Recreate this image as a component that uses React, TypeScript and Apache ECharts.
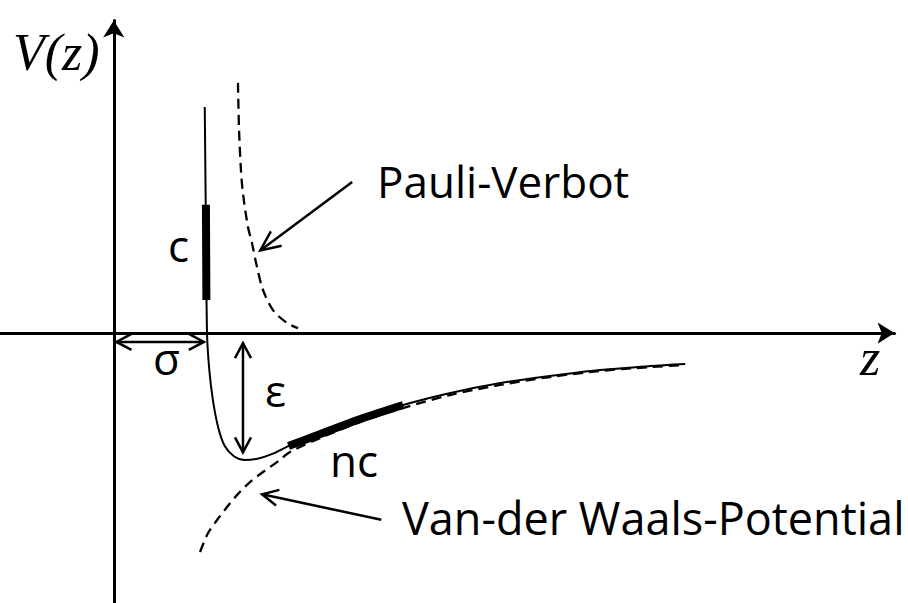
import { useEffect, useRef } from "react";
import * as echarts from "echarts";

// z is measured in units of σ, V in units of ε
const Z_MIN = -1.25;
const Z_MAX = 8.58;
const V_MIN = -2.126;
const V_MAX = 2.461;

// Full pair potential (solid curve)
const potentialZ = [1.0, 1.01, 1.025, 1.05, 1.09, 1.15, 1.22, 1.32, 1.44, 1.58, 1.75, 1.92, 2.27, 2.71, 3.18, 3.7, 4.25, 4.79, 5.34, 5.89, 6.28];
const potentialV = [1.78, 1.05, 0.0, -0.29, -0.53, -0.75, -0.89, -0.97, -1.0, -0.99, -0.95, -0.89, -0.795, -0.677, -0.567, -0.472, -0.394, -0.339, -0.291, -0.26, -0.244];

// Contact region (thick, steep wall)
const contactZ = [1.013, 1.0155, 1.018];
const contactV = [1.01, 0.635, 0.26];

// Non-contact region (thick, attractive tail)
const nonContactZ = [1.92, 2.27, 2.71, 3.18];
const nonContactV = [-0.89, -0.795, -0.677, -0.567];

// Pauli repulsion (dashed)
const pauliZ = [1.365, 1.376, 1.398, 1.42, 1.475, 1.519, 1.574, 1.64, 1.75, 1.904, 2.025];
const pauliV = [1.97, 1.62, 1.28, 1.1, 0.835, 0.709, 0.52, 0.339, 0.181, 0.079, 0.039];

// Van der Waals attraction (dashed)
const vdwZ = [0.948, 1.036, 1.135, 1.245, 1.354, 1.497, 1.64, 1.794, 1.937, 2.266, 2.706, 3.179, 3.695, 4.245, 4.794, 5.343, 5.893, 6.277];
const vdwV = [-1.724, -1.575, -1.472, -1.37, -1.276, -1.173, -1.094, -1.016, -0.937, -0.827, -0.701, -0.591, -0.488, -0.409, -0.346, -0.299, -0.268, -0.252];

// Annotation arrows: [from, to]
const pauliArrow: number[][] = [[2.62, 1.19], [1.61, 0.65]];
const vdwArrow: number[][] = [[2.94, -1.47], [1.63, -1.27]];
const sigmaArrow: number[][] = [[0.03, -0.07], [0.99, -0.07]];
const epsilonArrow: number[][] = [[1.42, -0.08], [1.42, -0.94]];

// Text labels: text, anchor z, anchor V, font kind, size
const labelTexts = ["Pauli-Verbot", "Van-der Waals-Potential", "c", "σ", "ε", "nc", "V(z)", "z"];
const labelZ = [2.893, 3.168, 0.596, 0.431, 1.662, 2.376, -1.107, 8.2];
const labelV = [1.197, -1.453, 0.693, -0.197, -0.449, -1.0, 2.209, -0.193];
const labelMath = [false, false, false, false, false, false, true, true];
const labelSize = [44, 45, 44, 44, 44, 44, 52, 52];

const zip = (a: number[], b: number[]) => a.map((v, i) => [v, b[i]]);

export default function App() {
  const ref = useRef<HTMLDivElement>(null);

  useEffect(() => {
    if (!ref.current) return;
    const chart = echarts.init(ref.current, null, { renderer: "svg" });

    const axisCommon = {
      type: "value" as const,
      axisTick: { show: false },
      axisLabel: { show: false },
      splitLine: { show: false },
      axisLine: {
        onZero: true,
        symbol: ["none", "arrow"],
        symbolSize: [16, 17],
        lineStyle: { color: "#000", width: 3 },
      },
    };

    const dashed = { color: "#000", width: 2.3, type: [10, 6] };

    chart.setOption({
      animation: false,
      grid: {
        left: 0,
        top: 20.5,
        width: (Z_MAX - Z_MIN) * 91,
        height: (V_MAX - V_MIN) * 127,
        containLabel: false,
        outerBoundsMode: "none",
      },
      xAxis: { ...axisCommon, min: Z_MIN, max: Z_MAX },
      yAxis: { ...axisCommon, min: V_MIN, max: V_MAX },
      series: [
        {
          type: "line",
          data: zip(vdwZ, vdwV),
          smooth: 0.3,
          showSymbol: false,
          lineStyle: dashed,
          z: 2,
        },
        {
          type: "line",
          data: zip(pauliZ, pauliV),
          smooth: 0.3,
          showSymbol: false,
          lineStyle: dashed,
          z: 2,
        },
        {
          type: "line",
          data: zip(potentialZ, potentialV),
          smooth: 0.3,
          showSymbol: false,
          lineStyle: { color: "#000", width: 2 },
          z: 3,
        },
        {
          type: "line",
          data: zip(contactZ, contactV),
          showSymbol: false,
          lineStyle: { color: "#000", width: 8, cap: "butt" },
          z: 4,
        },
        {
          type: "line",
          data: zip(nonContactZ, nonContactV),
          smooth: 0.3,
          showSymbol: false,
          lineStyle: { color: "#000", width: 8, cap: "butt" },
          z: 4,
        },
      ],
    });

    const toPx = (p: number[]) => chart.convertToPixel({ gridIndex: 0 }, p) as number[];

    const head = (tip: number[], from: number[], len: number, spread: number) => {
      const dx = from[0] - tip[0];
      const dy = from[1] - tip[1];
      const d = Math.hypot(dx, dy);
      const ux = dx / d;
      const uy = dy / d;
      const px = -uy;
      const py = ux;
      return [
        [tip[0] + ux * len + px * spread, tip[1] + uy * len + py * spread],
        tip,
        [tip[0] + ux * len - px * spread, tip[1] + uy * len - py * spread],
      ];
    };

    const arrowShapes = (pair: number[][], both: boolean, len: number, spread: number) => {
      const a = toPx(pair[0]);
      const b = toPx(pair[1]);
      const style = { stroke: "#000", lineWidth: 2.5, fill: "none" };
      const els: any[] = [
        { type: "polyline", shape: { points: [a, b] }, style },
        { type: "polyline", shape: { points: head(b, a, len, spread) }, style },
      ];
      if (both) els.push({ type: "polyline", shape: { points: head(a, b, len, spread) }, style });
      return els;
    };

    const texts = labelTexts.map((t, i) => {
      const p = toPx([labelZ[i], labelV[i]]);
      return {
        type: "text",
        x: p[0],
        y: p[1],
        style: {
          text: t,
          fill: "#000",
          fontSize: labelSize[i],
          fontFamily: labelMath[i] ? "Liberation Serif" : "Open Sans",
          fontStyle: labelMath[i] ? "italic" : "normal",
          align: "left",
          verticalAlign: "middle",
        },
        z: 10,
      };
    });

    chart.setOption({
      graphic: [
        ...arrowShapes(pauliArrow, false, 20, 9),
        ...arrowShapes(vdwArrow, false, 16, 8),
        ...arrowShapes(sigmaArrow, true, 15, 8),
        ...arrowShapes(epsilonArrow, true, 15, 8),
        ...texts,
      ],
    });

    return () => chart.dispose();
  }, []);

  return (
    <div
      ref={ref}
      style={{ position: "absolute", left: 0, top: 0, width: 908, height: 603, background: "#fff" }}
    />
  );
}
